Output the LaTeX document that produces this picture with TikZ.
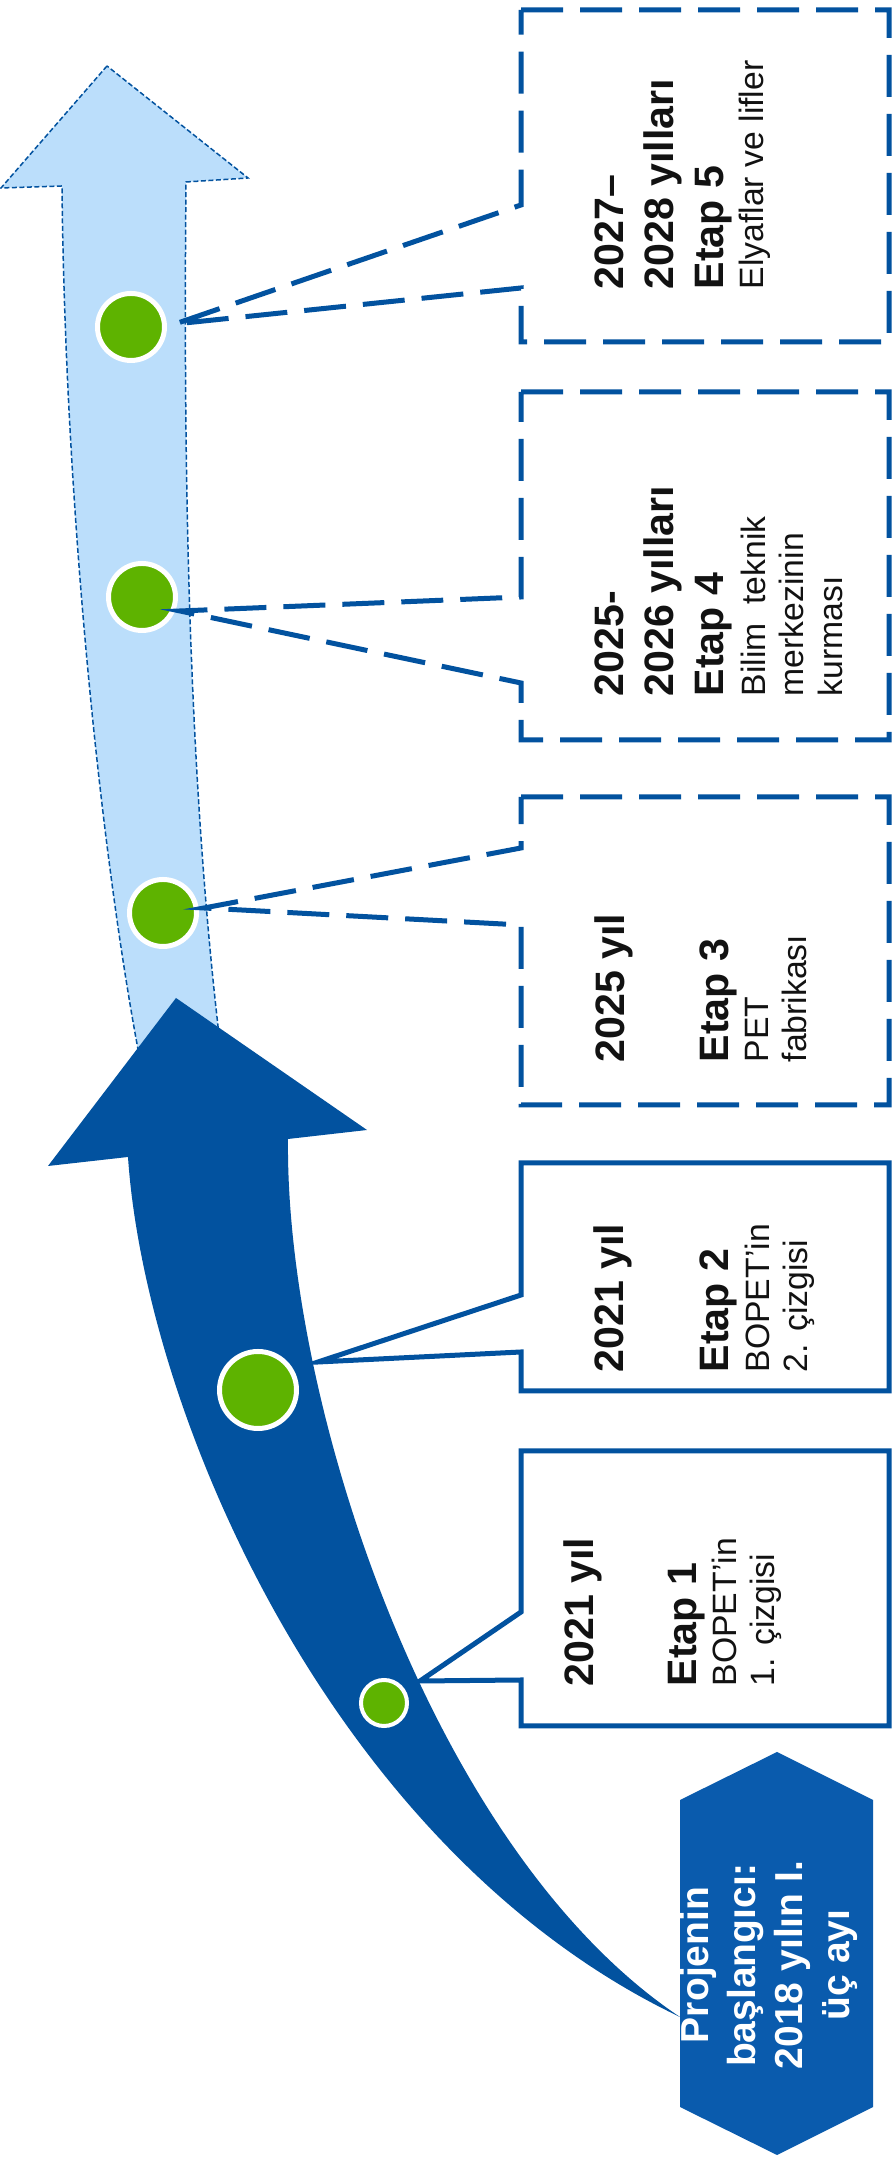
\documentclass[tikz,border=0pt]{standalone}
\usepackage{fontspec}
\setmainfont{Liberation Sans}
\usetikzlibrary{positioning}
\definecolor{etapblue}{RGB}{2,82,159}
\definecolor{hexblue}{RGB}{10,91,173}
\definecolor{lightshaft}{RGB}{187,222,251}
\definecolor{etapgreen}{RGB}{94,179,0}
\newcommand{\yearb}[1]{{\fontsize{11.7}{14}\selectfont\bfseries #1}}

\begin{document}
\begin{tikzpicture}
[line join=miter,
donebox/.style={draw=etapblue, line width=0.05cm},
planbox/.style={donebox, dash pattern=on 0.42cm off 0.17cm},
etaptext/.style={rotate=90, anchor=north west, inner sep=0pt, align=left, text=black!93, font=\fontsize{9.6}{10.9}\selectfont},
mstone/.style={circle, fill=etapgreen, draw=white, line width=0.05cm, inner sep=0pt, minimum size=0.67cm},
mstonebig/.style={mstone, minimum size=0.77cm},
mstonesmall/.style={mstone, line width=0.04cm, minimum size=0.46cm},
starttext/.style={rotate=90, align=center, inner sep=0pt, text=white, font=\fontsize{11.1}{13.4}\selectfont\bfseries}]

\fill[white] (0,0) rectangle (8.92,21.59);
\useasboundingbox (0,0) rectangle (8.92,21.59);

% upper (planned) arrow
\draw[fill=lightshaft, draw=etapblue, line width=0.015cm, dash pattern=on 0.05cm off 0.025cm]
  (1.07,20.93) -- (0.01,19.71) -- (0.62,19.73) .. controls (0.65,16.59) and (1.00,13.09) .. (1.40,10.99)
  -- (2.22,10.99) .. controls (1.90,13.59) and (1.83,16.59) .. (1.86,19.77) -- (2.48,19.81) -- cycle;

% lower arrow
\fill[etapblue] (1.76,11.61) -- (0.48,9.93) -- (1.28,10.02) .. controls (1.45,7.49) and (3.30,3.09) .. (6.80,1.42)
  .. controls (4.30,3.09) and (2.85,7.59) .. (2.88,10.20) -- (3.67,10.29) -- cycle;

\node[mstone] (dot5) at (1.31,18.32) {};
\node[mstone] (dot4) at (1.42,15.62) {};
\node[mstone] (dot3) at (1.63,12.46) {};
\node[mstonebig] (dot2) at (2.58,7.69) {};
\node[mstonesmall] (dot1) at (3.84,4.56) {};

\coordinate (tip5) at (1.75,18.35);
\coordinate (tip4) at (1.80,15.48);
\coordinate (tip3) at (2.04,12.51);
\coordinate (tip2) at (3.18,7.97);
\coordinate (tip1) at (4.20,4.78);

\foreach \t/\b/\u/\l/\n/\s in {21.49/18.17/19.54/18.71/5/planbox, 17.67/14.19/15.62/14.76/4/planbox,
  13.62/10.54/13.11/12.34/3/planbox, 9.96/7.68/8.64/8.07/2/donebox, 7.08/4.33/5.47/4.79/1/donebox} {
  \draw[\s] (5.21,\t) -- (8.89,\t) -- (8.89,\b) -- (5.21,\b) -- (5.21,\l) -- (tip\n) -- (5.21,\u) -- cycle;
}

\node[etaptext] (etap5) at (5.94,18.69) {\yearb{2027–}\\[3.3pt]\yearb{2028 yılları}\\[3.3pt]\yearb{Etap 5}\\[0.5pt]Elyaflar ve lifler};
\node[etaptext] (etap4) at (5.94,14.62) {\yearb{2025-}\\[3.3pt]\yearb{2026 yılları}\\[3.3pt]\yearb{Etap 4}\\[1.1pt]Bilim\ \ teknik\\merkezinin\\kurması};
\node[etaptext] (etap3) at (5.94,10.96) {\yearb{2025 yıl}\\[18.7pt]\yearb{Etap 3}\\[0.5pt]PET\\fabrikası};
\node[etaptext] (etap2) at (5.93,7.86) {\yearb{2021 yıl}\\[18.9pt]\yearb{Etap 2}\\[0.8pt]BOPET’in\\2. çizgisi};
\node[etaptext] (etap1) at (5.63,4.72) {\yearb{2021 yıl}\\[18.4pt]\yearb{Etap 1}\\[0.5pt]BOPET’in\\1. çizgisi};

% start of the project
\fill[hexblue] (7.77,4.07) -- (8.73,3.59) -- (8.73,0.52) -- (7.77,0.04) -- (6.80,0.52) -- (6.80,3.59) -- cycle;
\node[starttext] (start) at (7.69,1.94) {Projenin\\başlangıcı:\\2018 yılın I.\\üç ayı};

\end{tikzpicture}
\end{document}
